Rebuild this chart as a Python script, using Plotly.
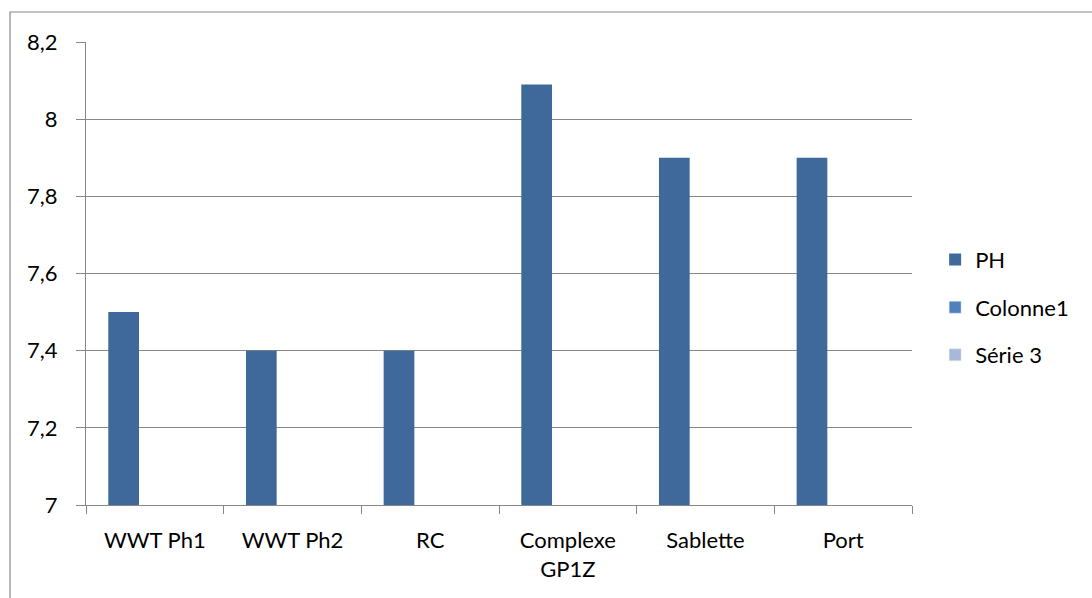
import plotly.graph_objects as go

categories = ["WWT Ph1", "WWT Ph2", "RC", "Complexe<br>GP1Z", "Sablette", "Port"]
ph_values = [7.5, 7.4, 7.4, 8.09, 7.9, 7.9]
colonne1_values = [None] * 6
serie3_values = [None] * 6
y_ticks = [7, 7.2, 7.4, 7.6, 7.8, 8, 8.2]

FONT = "Lato"
GRAY = "#878787"
FS = 22

fig = go.Figure()
fig.add_trace(go.Bar(
    name="PH", x=categories, y=ph_values,
    marker=dict(color="#3F689B", line=dict(width=0)),
    width=0.223, offset=-0.338, legendgroup="a",
))
fig.add_trace(go.Bar(
    name="Colonne1", x=categories, y=colonne1_values,
    marker=dict(color="#4F81BD"), legendgroup="b", showlegend=True,
))
fig.add_trace(go.Bar(
    name="Série 3", x=categories, y=serie3_values,
    marker=dict(color="#A7B9D8"), legendgroup="c", showlegend=True,
))

fig.update_layout(
    width=1092, height=598,
    margin=dict(l=86, r=180, t=42, b=93),
    paper_bgcolor="white", plot_bgcolor="white",
    separators=", ",
    font=dict(family=FONT, size=FS, color="#000000"),
    showlegend=True,
    legend=dict(
        x=1.028, xanchor="left", y=0.427, yanchor="middle",
        font=dict(family=FONT, size=FS, color="#000000"),
        tracegroupgap=16, bgcolor="rgba(0,0,0,0)",
    ),
    xaxis=dict(
        type="category", showgrid=False,
        showline=True, linecolor=GRAY, linewidth=1,
        ticks="outside", tickson="boundaries", ticklen=8,
        tickcolor=GRAY, tickwidth=1,
        tickfont=dict(family=FONT, size=FS, color="#000000"),
        range=[-0.5, 5.5], ticklabelstandoff=16,
    ),
    yaxis=dict(
        range=[7, 8.2], tickvals=y_ticks,
        showgrid=True, gridcolor=GRAY, gridwidth=1,
        showline=True, linecolor=GRAY, linewidth=1,
        ticks="outside", ticklen=9, tickcolor=GRAY, tickwidth=1,
        tickfont=dict(family=FONT, size=FS, color="#000000"),
        zeroline=False, ticklabelstandoff=14,
    ),
    shapes=[dict(
        type="path", xref="paper", yref="paper",
        path="M -0.092,-0.3 L -0.092,1.0648 L 1.3,1.0648",
        line=dict(color=GRAY, width=1.2),
    )],
)

fig.write_html("out.html")
